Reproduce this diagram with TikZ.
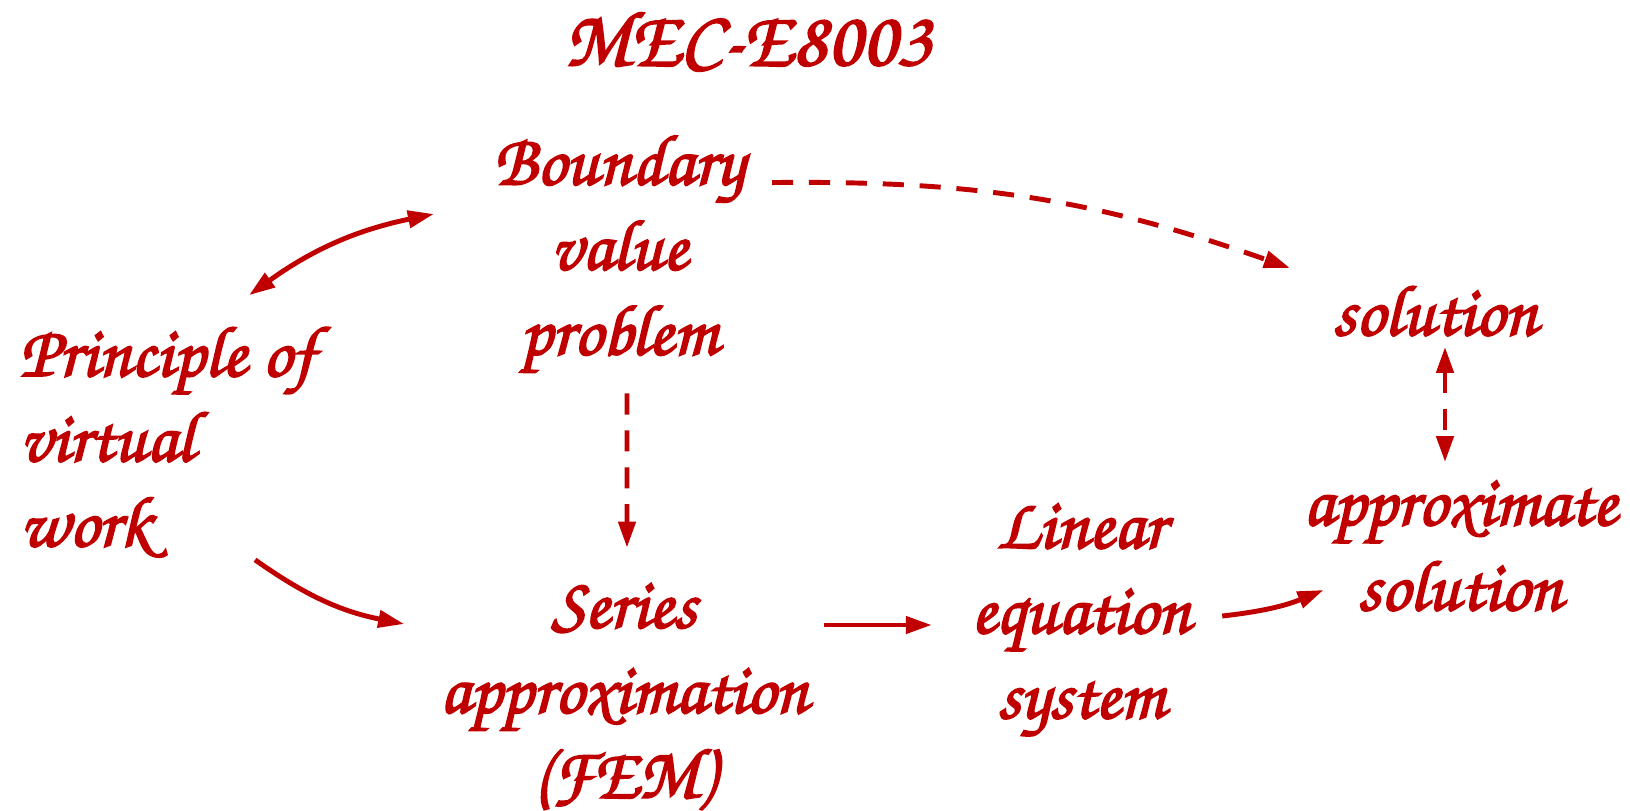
\documentclass[tikz,border=0pt]{standalone}
\usepackage[T1]{fontenc}
\renewcommand{\rmdefault}{pzc}
\usepackage{tikz}
\usetikzlibrary{arrows.meta}
\definecolor{fire}{RGB}{192,0,0}
% heavier strokes for the hand lettering
\newcommand{\inky}{\special{pdf:literal direct 2 Tr 0.5 w}}

\begin{document}
\begin{tikzpicture}[x=1cm,y=-1cm,
		every node/.style={text=fire,inner sep=0pt,font=\fontsize{20.5}{24.2}\selectfont\inky},
		conn/.style={draw=fire,line width=1.4pt,-{Triangle[length=7.4pt,width=4.8pt]}},
		both/.style={conn,{Triangle[length=7.4pt,width=4.8pt]}-{Triangle[length=7.4pt,width=4.8pt]}},
		dashy/.style={dash pattern=on 6pt off 4.5pt}]
		\useasboundingbox (0,0) rectangle (16.30,8.11);
		% title
		\node (title) at (7.48,0.38) {\fontsize{22.5}{24}\selectfont\inky MEC-E8003};
		% the boxes
		\node[align=center] (bvp) at (6.19,2.55) {Boundary\\value\\problem};
		\node[align=left,anchor=west] (pvw) at (0.19,4.42) {Principle of\\virtual\\work};
		\node (sol) at (14.35,3.10) {solution};
		\node[align=center] (approx) at (14.60,5.46) {approximate\\solution};
		\node[align=center] (fem) at (6.24,6.98) {Series\\approximation\\(FEM)};
		\node[align=center] (les) at (10.81,6.22) {Linear\\equation\\system};
		% connectors
		\draw[both] ([shift={(-0.66,-0.29)}]pvw.north east) to[bend left=12] ([shift={(-0.59,-0.41)}]bvp.west);
		\draw[conn,dashy] ([shift={(0.27,0.50)}]bvp.north east) to[bend left=10] ([shift={(-0.42,-0.42)}]sol.west);
		\draw[conn,dashy] ([shift={(0.08,0.16)}]bvp.south) -- ([shift={(0.03,-0.35)}]fem.north);
		\draw[conn] ([shift={(-0.60,0)}]pvw.south east) to[bend right=12] ([shift={(-0.35,-0.74)}]fem.west);
		\draw[conn] ([shift={(-1.47,0.03)}]les.west) -- ([shift={(-0.39,0.03)}]les.west);
		\draw[conn] ([shift={(0.31,-0.06)}]les.east) to[bend right=8] ([shift={(0.21,0.44)}]approx.west);
		\draw[both,dashy] ([shift={(0.10,0.10)}]sol.south) -- ([shift={(-0.15,-0.18)}]approx.north);
	\end{tikzpicture}
\end{document}
